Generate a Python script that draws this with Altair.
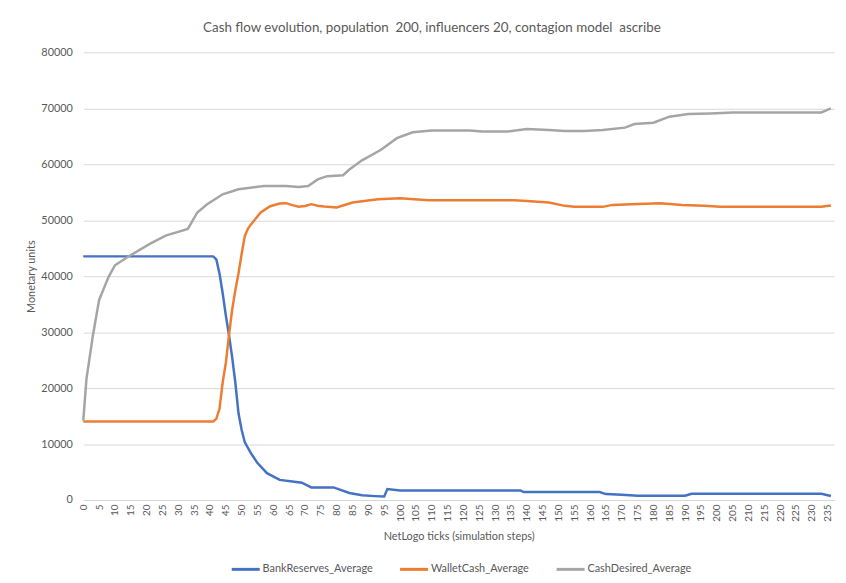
import altair as alt
import pandas as pd

series_names = ["BankReserves_Average", "WalletCash_Average", "CashDesired_Average"]
series_colors = ["#4472C4", "#ED7D31", "#A5A5A5"]

bank_ticks = [0, 41, 42, 43, 44, 45, 46, 47, 48, 49, 50, 51, 53, 55, 58, 62, 66, 69, 72, 79,
              84, 88, 92, 95, 96, 100, 138, 139, 163, 165, 170, 175, 190, 192, 233, 236]
bank_values = [43540, 43540, 43000, 40500, 37000, 33000, 29500, 25500, 21000, 15500, 12500, 10300,
               8300, 6600, 4800, 3600, 3300, 3100, 2250, 2250,
               1250, 850, 700, 620, 1950, 1720, 1720, 1420, 1420, 1060, 940, 770, 770, 1120, 1120, 710]

wallet_ticks = [0, 41, 42, 43, 44, 45, 46, 47, 48, 49, 50, 51, 52, 53, 56, 59, 62, 64, 66, 68,
                70, 72, 74, 76, 80, 85, 93, 100, 109, 136, 140, 147, 152, 155, 164, 167, 173,
                182, 189, 196, 201, 233, 236]
wallet_values = [14040, 14040, 14500, 16300, 21000, 24500, 29500, 34000, 37500, 40500, 44000,
                 47200, 48500, 49300, 51400, 52500, 53000, 53050, 52700, 52400,
                 52550, 52870, 52600, 52440, 52270, 53160, 53750, 53930, 53570, 53570, 53450,
                 53160, 52570, 52390, 52390, 52740, 52860,
                 53040, 52740, 52570, 52390, 52390, 52620]

desired_ticks = [0, 1, 3, 5, 8, 10, 14, 21, 26, 33, 36, 39, 44, 49, 57, 64, 68, 71, 74, 77,
                 82, 84, 88, 94, 99, 104, 110, 122, 126, 134, 140, 147, 152, 158, 164, 171,
                 174, 180, 185, 191, 198, 205, 233, 236]
desired_values = [14200, 21600, 29260, 35750, 39880, 41950, 43420, 45780, 47260, 48440, 51380,
                  52800, 54640, 55530, 56110, 56110, 55930, 56100, 57290, 57870,
                  58050, 59060, 60700, 62590, 64660, 65720, 66020, 66020, 65840, 65840, 66310,
                  66130, 65960, 65960, 66140, 66550,
                  67200, 67430, 68500, 68970, 69080, 69260, 69260, 69970]

x_tick_labels = list(range(0, 240, 5))
y_tick_values = list(range(0, 80001, 10000))

rows = []
for name, ts, vs in zip(series_names,
                        [bank_ticks, wallet_ticks, desired_ticks],
                        [bank_values, wallet_values, desired_values]):
    for t, v in zip(ts, vs):
        rows.append({"tick": t, "value": v, "series": name})
df = pd.DataFrame(rows)

FONT = "Lato"
TXT = "#595959"
GRID = "#d9d9d9"

chart = alt.Chart(df).mark_line(strokeWidth=2.5).encode(
    x=alt.X("tick:Q",
            scale=alt.Scale(domain=[0, 237], nice=False, zero=False),
            axis=alt.Axis(values=x_tick_labels, labelAngle=270, title="NetLogo ticks (simulation steps)",
                          grid=False, ticks=False, labelFontSize=10, labelPadding=4,
                          titlePadding=9, domainColor=GRID, labelColor=TXT, titleColor=TXT,
                          labelFont=FONT, titleFont=FONT, titleFontSize=11, titleFontWeight="normal",
                          labelFlush=False, labelOverlap=False)),
    y=alt.Y("value:Q",
            scale=alt.Scale(domain=[0, 80000], nice=False),
            axis=alt.Axis(values=y_tick_values, title="Monetary units", format="d",
                          grid=True, gridColor=GRID, ticks=False, domain=False,
                          labelPadding=11, labelFontSize=11, labelColor=TXT, titleColor=TXT,
                          labelFont=FONT, titleFont=FONT, titleFontSize=11,
                          titleFontWeight="normal", titlePadding=4)),
    color=alt.Color("series:N",
                    scale=alt.Scale(domain=series_names, range=series_colors),
                    legend=alt.Legend(orient="none", legendX=148, legendY=506, direction="horizontal",
                                      title=None, symbolType="stroke", symbolStrokeWidth=3,
                                      symbolSize=800, labelFontSize=11, labelFont=FONT,
                                      labelColor=TXT, columnPadding=20, labelOffset=1)),
).properties(
    width=758,
    height=452,
    autosize=alt.AutoSizeParams(type="none"),
    padding={"left": 76, "top": 42, "right": 4, "bottom": 81},
    title=alt.Title("Cash flow evolution, population\u00a0 200, influencers 20, contagion model\u00a0 ascribe",
                    font=FONT, fontSize=13.5, fontWeight="normal", color=TXT,
                    anchor="middle", dx=-27, offset=12),
).configure_view(stroke=None)

chart.save("out.html", embed_options={"renderer": "svg", "actions": False})
